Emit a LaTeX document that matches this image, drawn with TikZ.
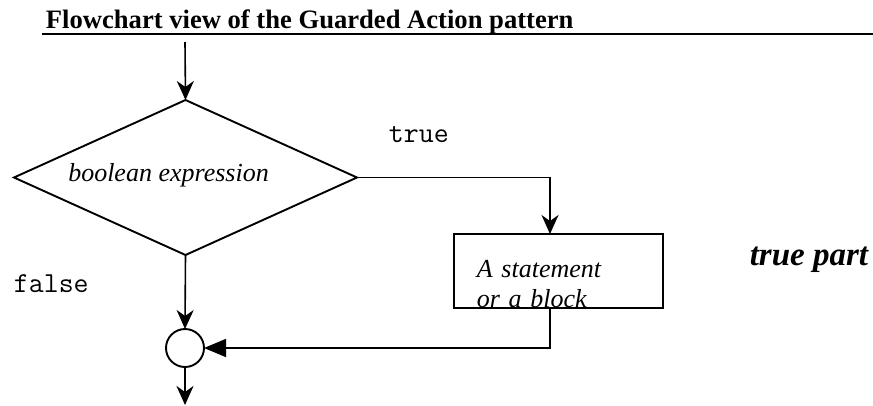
\documentclass[tikz,border=0pt]{standalone}
\usepackage{fontspec}
\setmainfont{Liberation Serif}
\usetikzlibrary{shapes.geometric,arrows.meta}

\begin{document}
\begin{tikzpicture}[x=1pt,y=-1pt,line width=1.9pt, % Unidades en pixeles, eje y hacia abajo
    decision/.style={draw, diamond, minimum width=343pt, minimum height=155pt, inner sep=0pt, outer sep=0pt},
    bloque/.style={draw, rectangle, minimum width=209pt, minimum height=74pt, inner sep=0pt, outer sep=0pt},
    union/.style={draw, circle, minimum size=38pt, inner sep=0pt, outer sep=0pt},
    flujo/.style={-{Stealth[length=19pt,width=17pt,inset=6pt]}, line width=1.6pt},
    retorno/.style={-{Triangle[length=22pt,width=18pt]}, line width=1.6pt},
    etiqueta/.style={inner sep=0pt, anchor=base west}]

    \useasboundingbox (0,0) rectangle (873,405); % Margenes de la figura

    % Titulo
    \node[etiqueta, font=\bfseries\fontsize{26.6}{30}\selectfont] (titulo) at (45,28) {Flowchart view of the Guarded Action pattern};
    \draw[line width=1.5pt] (42,34) -- (873,34); % Linea bajo el titulo

    % Nodos
    \coordinate (entrada) at (185,42);
    \node[decision] (cond) at (185.5,177.5) {};
    \node[etiqueta, anchor=base, font=\itshape\fontsize{26}{30}\selectfont] (condtexto) at (168.5,181) {boolean expression};
    \node[bloque] (accion) at (558.5,271) {};
    \node[etiqueta, text width=140pt, align=left, font=\itshape\fontsize{26}{30}\selectfont] (acciontexto) at (476,277) {A statement\\or a block};
    \node[union] (fin) at (185,348) {};
    \coordinate (salida) at (185,405);

    % Conectores
    \draw[flujo] (entrada) -- (cond.north);
    \draw[flujo] (cond.east) -| ([xshift=-8.5pt]accion.north); % Rama verdadera
    \draw[flujo] (cond.south) -- (fin.north); % Rama falsa
    \draw[retorno] ([xshift=-8.5pt]accion.south) |- (fin.east);
    \draw[flujo] (fin.south) -- (salida);

    % Etiquetas
    \node[etiqueta, font=\ttfamily\fontsize{29}{32}\selectfont] (verdadero) at (388,142) {true};
    \node[etiqueta, font=\ttfamily\fontsize{29}{32}\selectfont] (falso) at (13,292) {false};
    \node[etiqueta, anchor=base east, font=\bfseries\itshape\fontsize{33}{38}\selectfont] (partever) at (869,265) {true part};

\end{tikzpicture}
\end{document}
